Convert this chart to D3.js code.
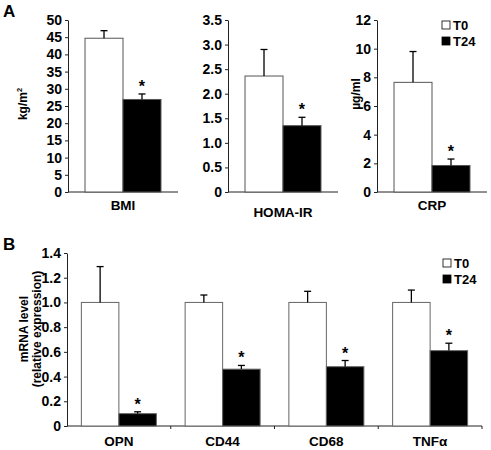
<!DOCTYPE html>
<html><head><meta charset="utf-8">
<script src="https://cdn.jsdelivr.net/npm/d3@7"></script>
<style>
body{margin:0;background:#fff;}
svg text{font-family:Arial,"Liberation Sans",sans-serif !important;font-weight:700 !important;fill:#000;}
</style></head>
<body><svg id="c" width="491" height="450"></svg>
<script>
// Panel A data
const aCategories = ["BMI", "HOMA-IR", "CRP"];
const aT0 = [44.7, 2.36, 7.65];
const aT0Err = [2.2, 0.54, 2.15];
const aT24 = [26.9, 1.35, 1.85];
const aT24Err = [1.6, 0.17, 0.45];
const aYMax = [50, 3.5, 12];
const aTickStep = [5, 0.5, 2];
const aUnits = ["kg/m", "", "µg/ml"];
const aSignificant = [true, true, true];
// Panel B data
const bCategories = ["OPN", "CD44", "CD68", "TNFα"];
const bT0 = [1.0, 1.0, 1.0, 1.0];
const bT0Err = [0.29, 0.06, 0.09, 0.10];
const bT24 = [0.10, 0.46, 0.48, 0.61];
const bT24Err = [0.015, 0.03, 0.05, 0.06];
const bTicks = [0, 0.2, 0.4, 0.6, 0.8, 1.0, 1.2, 1.4];
const seriesNames = ["T0", "T24"];

const svg = d3.select("#c");
const barStroke = "#555";
const axisColor = "#222";
const tickFont = 14;
const yLabFont = 12;

function errBar(g, x, yTop, yErr) {
  g.append("line").attr("x1", x).attr("x2", x).attr("y1", yTop).attr("y2", yErr)
    .attr("stroke", "#000").attr("stroke-width", 1.3);
  g.append("line").attr("x1", x - 3.5).attr("x2", x + 3.5).attr("y1", yErr).attr("y2", yErr)
    .attr("stroke", "#000").attr("stroke-width", 1.3);
}

function legend(g, x, y) {
  seriesNames.forEach((n, i) => {
    g.append("rect").attr("x", x).attr("y", y + i * 16).attr("width", 8).attr("height", 8)
      .attr("fill", i === 0 ? "#fff" : "#000").attr("stroke", "#000").attr("stroke-width", 0.8);
    g.append("text").attr("x", x + 11).attr("y", y + i * 16 + 8.5).attr("font-size", 13).text(n);
  });
}

// Panel labels
svg.append("text").attr("x", 3).attr("y", 17).attr("font-size", 17).text("A");
svg.append("text").attr("x", 3).attr("y", 250).attr("font-size", 17).text("B");

// Panel A
const aAxisX = [68, 228, 377];
const aTop = 20, aBottom = 192, aWidth = 110;
aCategories.forEach((cat, i) => {
  const g = svg.append("g").attr("transform", `translate(${aAxisX[i]},0)`);
  const y = d3.scaleLinear().domain([0, aYMax[i]]).range([aBottom, aTop]);
  const x = d3.scaleBand().domain([cat]).range([0, aWidth]).paddingOuter(0.224).paddingInner(0);
  const xs = d3.scaleBand().domain(seriesNames).range([0, x.bandwidth()]);
  const ticks = d3.range(0, aYMax[i] + aTickStep[i] / 2, aTickStep[i]);
  const fmt = aTickStep[i] < 1 ? (d => d === 0 ? "0" : d3.format(".1f")(d)) : d3.format("d");
  const ax = g.append("g").call(d3.axisLeft(y).tickValues(ticks).tickFormat(fmt).tickSize(3).tickPadding(3).tickSizeOuter(0));
  ax.select(".domain").attr("stroke", axisColor);
  ax.selectAll(".tick line").attr("stroke", axisColor);
  ax.selectAll("text").attr("font-size", tickFont);
  g.append("line").attr("x1", 0).attr("x2", aWidth).attr("y1", aBottom).attr("y2", aBottom).attr("stroke", axisColor);
  const vals = [aT0[i], aT24[i]], errs = [aT0Err[i], aT24Err[i]];
  seriesNames.forEach((s, j) => {
    const bx = x(cat) + xs(s);
    g.append("rect").attr("x", bx).attr("y", y(vals[j])).attr("width", xs.bandwidth()).attr("height", y(0) - y(vals[j]))
      .attr("fill", j === 0 ? "#fff" : "#000").attr("stroke", barStroke).attr("stroke-width", 1);
    errBar(g, bx + xs.bandwidth() / 2, y(vals[j]), y(vals[j] + errs[j]));
  });
  if (aSignificant[i]) {
    g.append("text").attr("x", x(cat) + xs("T24") + xs.bandwidth() / 2).attr("y", y(aT24[i] + aT24Err[i]) - 2)
      .attr("text-anchor", "middle").attr("font-size", 16).text("*");
  }
  g.append("text").attr("x", x(cat) + x.bandwidth() / 2).attr("y", i === 1 ? 217 : 210)
    .attr("text-anchor", "middle").attr("font-size", 13.5).text(cat);
});
// A y labels
const ylab1 = svg.append("text").attr("transform", "translate(27,104) rotate(-90)").attr("text-anchor", "middle").attr("font-size", yLabFont);
ylab1.append("tspan").text(aUnits[0]);
ylab1.append("tspan").attr("font-size", 7.5).attr("dy", -5).text("2");
svg.append("text").attr("transform", "translate(360,94) rotate(-90)").attr("text-anchor", "middle").attr("font-size", yLabFont).text(aUnits[2]);
legend(svg.append("g"), 442, 21);

// Panel B
const bg = svg.append("g").attr("transform", "translate(67,0)");
const bTop = 253, bBottom = 426, bWidth = 415;
const by = d3.scaleLinear().domain([0, 1.4]).range([bBottom, bTop]);
const bx = d3.scaleBand().domain(bCategories).range([0, bWidth]).paddingInner(0.277).paddingOuter(0.1385);
const bxs = d3.scaleBand().domain(seriesNames).range([0, bx.bandwidth()]);
const bax = bg.append("g").call(d3.axisLeft(by).tickValues(bTicks).tickFormat(d => d === 0 ? "0" : d3.format(".1f")(d)).tickSize(3).tickPadding(3).tickSizeOuter(0));
bax.select(".domain").attr("stroke", axisColor);
bax.selectAll(".tick line").attr("stroke", axisColor);
bax.selectAll("text").attr("font-size", tickFont);
bg.append("line").attr("x1", 0).attr("x2", bWidth).attr("y1", bBottom).attr("y2", bBottom).attr("stroke", axisColor);
// group separator ticks
const step = bx.step();
d3.range(1, bCategories.length + 1).forEach(k => {
  const tx = bx(bCategories[0]) - bx.paddingOuter() * step + k * step;
  bg.append("line").attr("x1", tx).attr("x2", tx).attr("y1", bBottom).attr("y2", bBottom + 3).attr("stroke", axisColor);
});
bCategories.forEach((cat, i) => {
  const vals = [bT0[i], bT24[i]], errs = [bT0Err[i], bT24Err[i]];
  seriesNames.forEach((s, j) => {
    const x0 = bx(cat) + bxs(s);
    bg.append("rect").attr("x", x0).attr("y", by(vals[j])).attr("width", bxs.bandwidth()).attr("height", by(0) - by(vals[j]))
      .attr("fill", j === 0 ? "#fff" : "#000").attr("stroke", "#666").attr("stroke-width", 1);
    errBar(bg, x0 + bxs.bandwidth() / 2, by(vals[j]), by(vals[j] + errs[j]));
  });
  bg.append("text").attr("x", bx(cat) + bxs("T24") + bxs.bandwidth() / 2).attr("y", by(bT24[i] + bT24Err[i]) - 2)
    .attr("text-anchor", "middle").attr("font-size", 16).text("*");
  bg.append("text").attr("x", bx(cat) + bx.bandwidth() / 2).attr("y", 446)
    .attr("text-anchor", "middle").attr("font-size", 13.5).text(cat);
});
const ylabB = svg.append("text").attr("transform", "translate(0,329) rotate(-90)").attr("text-anchor", "middle").attr("font-size", yLabFont);
ylabB.append("tspan").attr("x", 0).attr("y", 28).text("mRNA level");
ylabB.append("tspan").attr("x", 0).attr("y", 41).text("(relative expression)");
legend(svg.append("g"), 443, 259);
</script></body></html>
